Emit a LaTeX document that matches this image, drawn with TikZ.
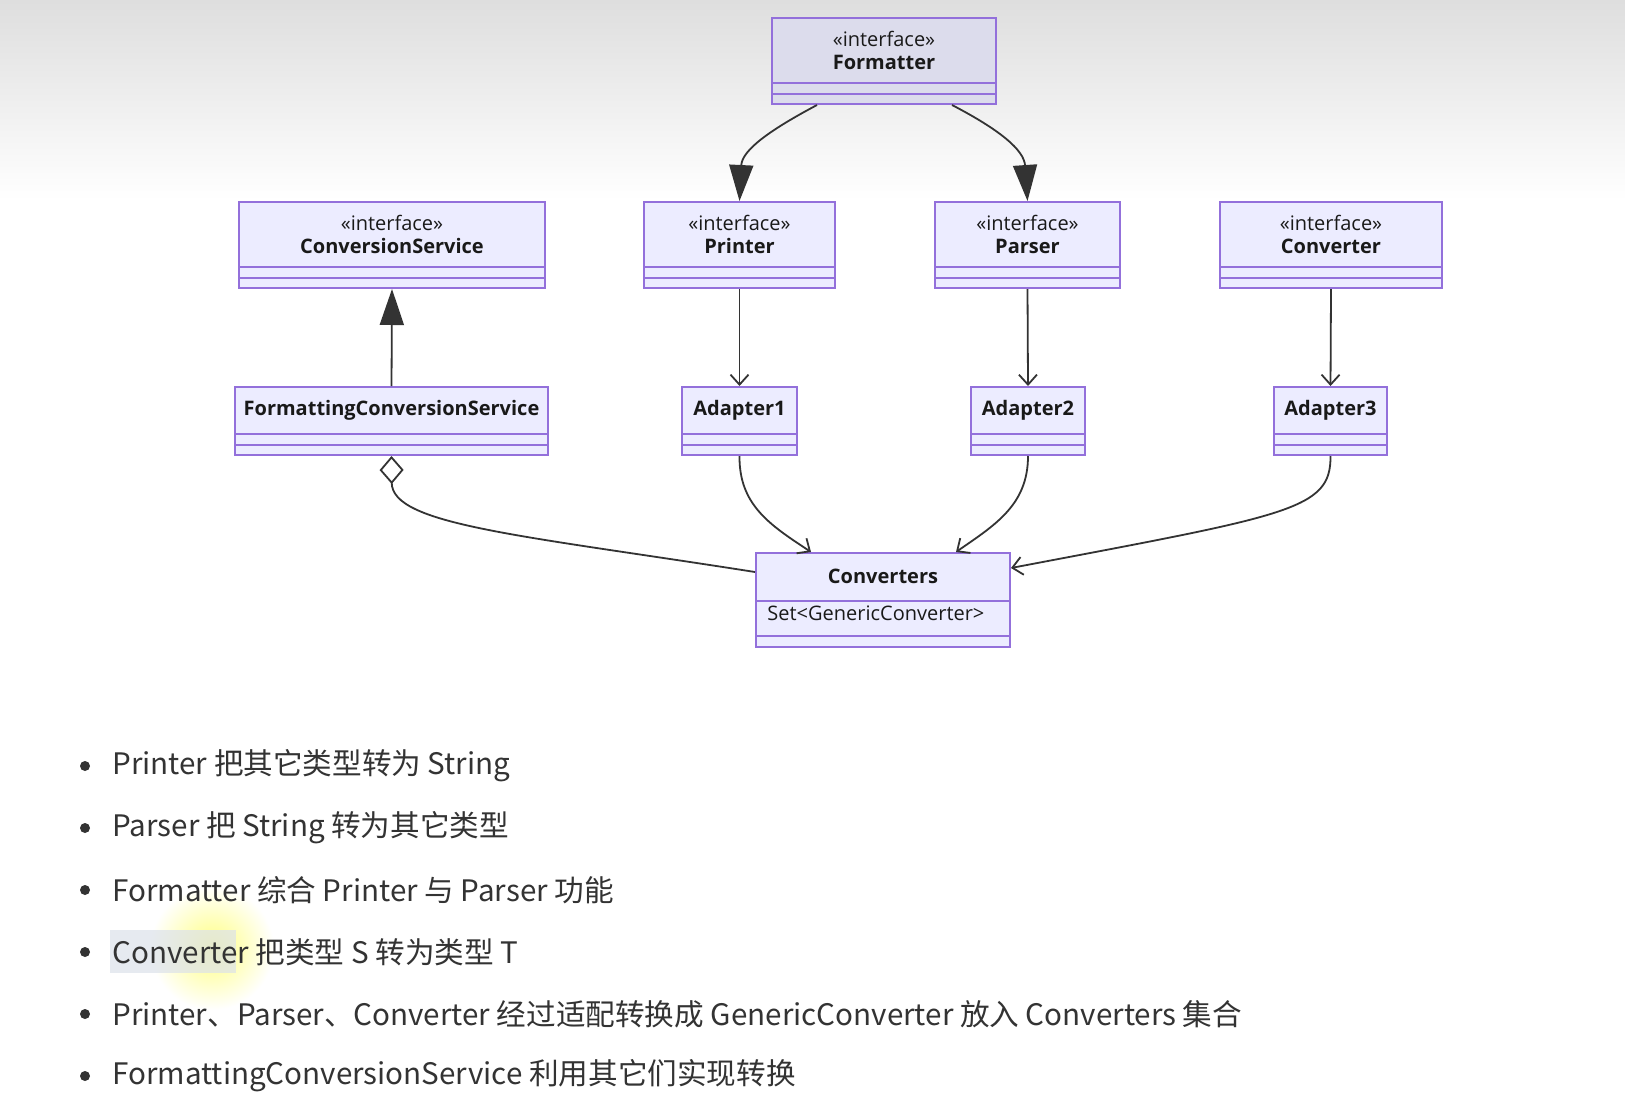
\documentclass[tikz,border=0pt]{standalone}
\usepackage{fontspec}
\setmainfont{Open Sans}
\newfontfamily\cjk{Noto Sans CJK SC}
\usetikzlibrary{arrows.meta,calc}
\definecolor{umlfill}{HTML}{ECECFF}
\definecolor{umlline}{HTML}{9370DB}
\definecolor{linkgray}{HTML}{333333}
\definecolor{selgray}{HTML}{DCE2EA}
\tikzset{
  classbox/.style={draw=umlline, fill=umlfill, line width=1pt, inner sep=0pt},
  classtitle/.style={align=center, font=\fontsize{10}{11.5}\selectfont, text=black!90, inner sep=0pt},
  compline/.style={draw=umlline, line width=1pt},
  link/.style={draw=linkgray, line width=0.9pt},
  inherit/.style={link, -{Triangle[length=18pt,width=12pt]}},
  assoc/.style={link, -{Straight Barb[length=5pt,width=9pt]}},
  aggr/.style={link, -{Diamond[fill=white,length=14pt,width=12pt]}},
  bullettext/.style={anchor=west, font=\cjk\fontsize{14.8}{17}\selectfont, text=black!80, inner sep=0pt},
}
\newcommand\iface[1]{\mdseries«interface»\\\bfseries #1}

\begin{document}
\begin{tikzpicture}[x=0.5pt, y=-0.5pt]
  \useasboundingbox (0,0) rectangle (1625,1092);
  \fill[white] (0,0) rectangle (1625,1092);
  \shade[top color=black!13, bottom color=white] (0,0) rectangle (1625,200);

  %%%%% CLASSES %%%%%
  \node[classbox, fill=umlfill!85!gray, minimum width=112pt, minimum height=43pt] (fmt) at (884,61) {};
  \node[classbox, minimum width=153pt, minimum height=43pt] (csvc) at (392,245) {};
  \node[classbox, minimum width=95.5pt, minimum height=43pt] (prt) at (739.5,245) {};
  \node[classbox, minimum width=92.5pt, minimum height=43pt] (psr) at (1027.5,245) {};
  \node[classbox, minimum width=111pt, minimum height=43pt] (cnv) at (1331,245) {};
  \node[classbox, minimum width=156.5pt, minimum height=34pt] (fcs) at (391.5,421) {};
  \node[classbox, minimum width=57.5pt, minimum height=34pt] (ad1) at (739.5,421) {};
  \node[classbox, minimum width=57pt, minimum height=34pt] (ad2) at (1028,421) {};
  \node[classbox, minimum width=56.5pt, minimum height=34pt] (ad3) at (1330.5,421) {};
  \node[classbox, minimum width=127pt, minimum height=47pt] (conv) at (883,600) {};

  \foreach \n in {fmt,csvc,prt,psr,cnv,fcs,ad1,ad2,ad3}{
    \draw[compline] ([yshift=5.5pt]\n.south west) -- ([yshift=5.5pt]\n.south east);
    \draw[compline] ([yshift=11pt]\n.south west) -- ([yshift=11pt]\n.south east);
  }
  \draw[compline] ([yshift=6pt]conv.south west) -- ([yshift=6pt]conv.south east);
  \draw[compline] ([yshift=23.5pt]conv.south west) -- ([yshift=23.5pt]conv.south east);

  \foreach \n/\t in {fmt/Formatter, csvc/ConversionService, prt/Printer, psr/Parser, cnv/Converter}
    \node[classtitle] (\n-t) at ($(\n.north)!.5!([yshift=11pt]\n.south)$) {\iface{\t}};
  \foreach \n/\t in {fcs/FormattingConversionService, ad1/Adapter1, ad2/Adapter2, ad3/Adapter3}
    \node[classtitle, font=\fontsize{10}{11.5}\selectfont\bfseries] (\n-t) at ($(\n.north)!.5!([yshift=11pt]\n.south)$) {\t};
  \node[classtitle, font=\fontsize{10}{11.5}\selectfont\bfseries] (conv-t) at ($(conv.north)!.5!([yshift=23.5pt]conv.south)$) {Converters};
  \node[classtitle, anchor=base west] (conv-f) at ([xshift=6pt,yshift=14pt]conv.south west) {Set<GenericConverter>};

  %%%%% RELATIONS %%%%%
  \draw[inherit] ([xshift=-33.5pt]fmt.south) .. controls (770,130) and (742,150) .. (prt.north);
  \draw[inherit] ([xshift=34pt]fmt.south) .. controls (1000,130) and (1024,150) .. (psr.north);
  \draw[inherit] (fcs.north) -- (csvc.south);

  \draw[assoc] (prt.south) -- (ad1.north);
  \draw[assoc] (psr.south) -- (ad2.north);
  \draw[assoc] (cnv.south) -- (ad3.north);

  \draw[assoc] (ad1.south) .. controls (739,505) and (770,525) .. ([xshift=-36pt]conv.north);
  \draw[assoc] (ad2.south) .. controls (1028,505) and (995,525) .. ([xshift=36.5pt]conv.north);
  \draw[assoc] (ad3.south) .. controls (1331,510) and (1290,515) .. ([yshift=-8pt]conv.north east);
  \draw[aggr] ([yshift=-10pt]conv.north west) .. controls (520,535) and (392,525) .. (fcs.south);

  %%%%% NOTES %%%%%
  \shade[inner color=yellow!50, outer color=white] (212,948) circle (62);
  \fill[selgray, opacity=0.7] (110,930) rectangle (236,973);
  \foreach \t [count=\k from 0] in {Printer 把其它类型转为 String, Parser 把 String 转为其它类型, Formatter 综合 Printer 与 Parser 功能, Converter 把类型 S 转为类型 T, Printer、Parser、Converter 经过适配转换成 GenericConverter 放入 Converters 集合, FormattingConversionService 利用其它们实现转换}{
    \fill[linkgray] (85,766+62*\k) circle (5);
    \node[bullettext] (item\k) at (112,766+62*\k) {\t};
  }
\end{tikzpicture}
\end{document}
